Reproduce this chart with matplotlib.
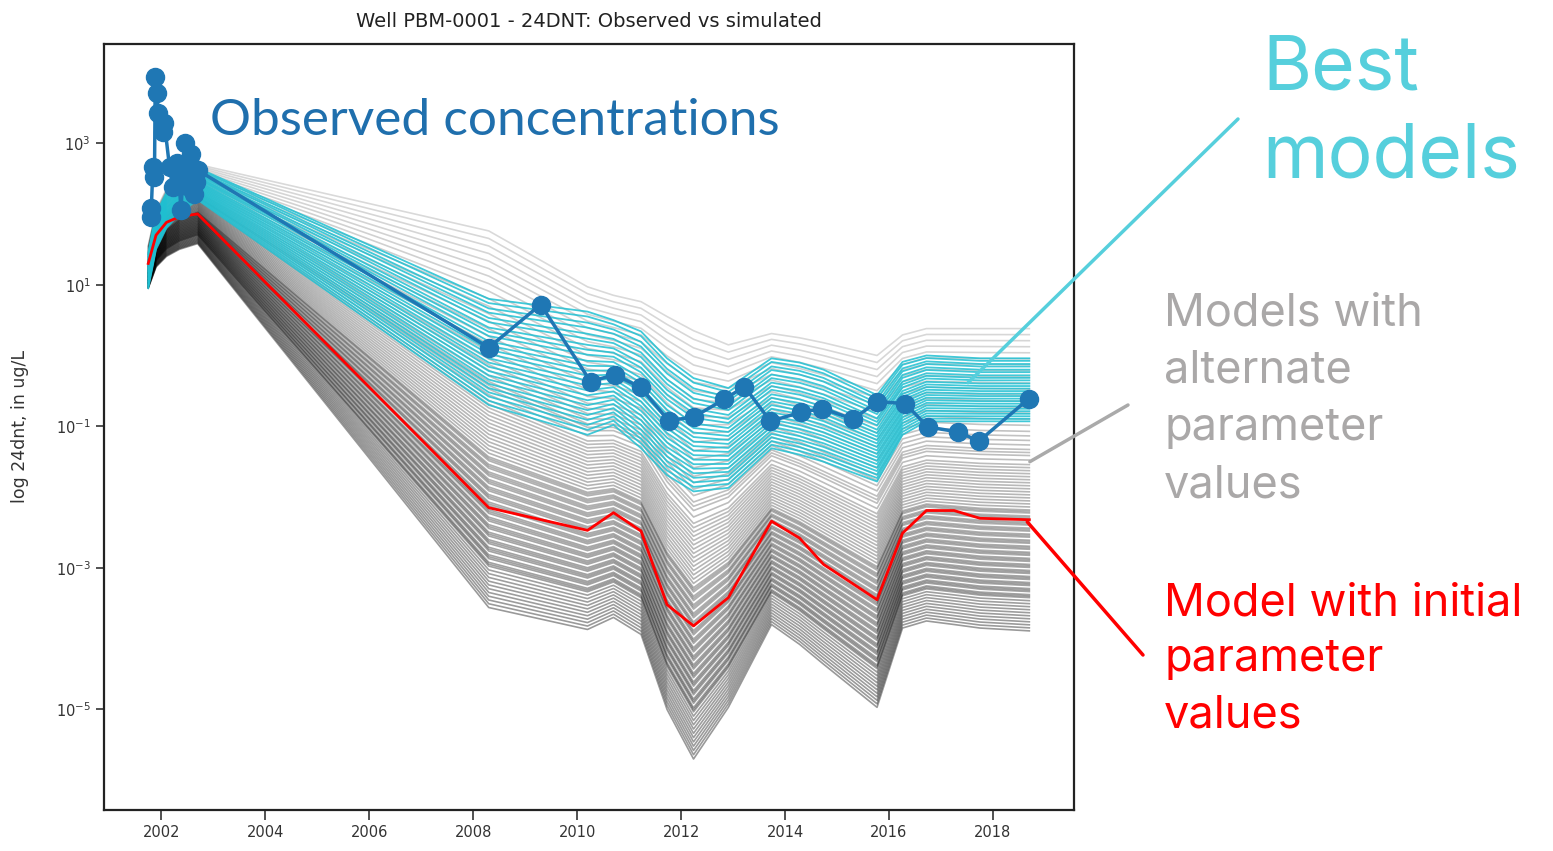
import numpy as np
import matplotlib.pyplot as plt

# model output times (decimal years)
t_model = [2001.75, 2001.90, 2002.10, 2002.35, 2002.70, 2008.30, 2010.20, 2010.70,
           2011.23, 2011.73, 2012.24, 2012.91, 2013.74, 2014.28, 2014.74, 2015.77,
           2016.26, 2016.72, 2017.25, 2017.75, 2018.70]

# log10 concentration envelopes
gray_top = [1.55, 2.05, 2.35, 2.55, 2.70, 1.76, 0.97, 0.85, 0.76, 0.55, 0.35,
            0.15, 0.31, 0.25, 0.18, 0.00, 0.29, 0.38, 0.38, 0.38, 0.38]
gray_bot = [0.95, 1.25, 1.40, 1.50, 1.58, -3.56, -3.87, -3.70, -3.94, -5.00, -5.70,
            -4.97, -3.80, -4.08, -4.36, -4.97, -3.85, -3.75, -3.80, -3.85, -3.89]
cyan_top = [1.45, 2.00, 2.30, 2.50, 2.65, 0.80, 0.62, 0.50, 0.34, -0.04, -0.32,
            -0.46, -0.04, -0.10, -0.20, -0.56, -0.09, 0.00, -0.02, -0.04, -0.04]
cyan_bot = [0.95, 1.50, 1.80, 2.00, 2.20, -0.70, -1.12, -0.98, -1.31, -1.69, -1.92,
            -1.87, -1.31, -1.40, -1.50, -1.78, -1.12, -0.93, -0.93, -0.93, -0.93]
red_init = [1.30, 1.70, 1.88, 1.96, 2.00, -2.15, -2.47, -2.22, -2.48, -3.52, -3.82,
            -3.42, -2.34, -2.58, -2.95, -3.45, -2.51, -2.19, -2.19, -2.30, -2.32]

# position of each ensemble member between the envelopes (0 = top, 1 = bottom)
gray_u = [0.00, 0.02, 0.04, 0.06, 0.08, 0.10, 0.12, 0.14, 0.16, 0.18, 0.20, 0.22,
          0.24, 0.26, 0.28, 0.30, 0.32, 0.34, 0.355, 0.37, 0.385, 0.40, 0.41, 0.42,
          0.435, 0.45, 0.46, 0.47, 0.48, 0.49, 0.50, 0.51, 0.52, 0.53, 0.54, 0.55,
          0.56, 0.57, 0.58, 0.59, 0.60, 0.605, 0.61, 0.62, 0.625, 0.63, 0.64, 0.645,
          0.65, 0.66, 0.665, 0.67, 0.68, 0.685, 0.69, 0.70, 0.705, 0.71, 0.72, 0.725,
          0.73, 0.74, 0.745, 0.75, 0.76, 0.765, 0.77, 0.78, 0.785, 0.79, 0.80, 0.805,
          0.81, 0.82, 0.825, 0.83, 0.84, 0.845, 0.85, 0.86, 0.865, 0.87, 0.88, 0.885,
          0.89, 0.90, 0.91, 0.92, 0.93, 0.94, 0.95, 0.96, 0.97, 0.98, 0.99, 1.00]
cyan_u = [0.00, 0.04, 0.09, 0.13, 0.18, 0.22, 0.27, 0.31, 0.35, 0.40, 0.44, 0.48,
          0.52, 0.56, 0.60, 0.64, 0.68, 0.72, 0.76, 0.80, 0.84, 0.88, 0.92, 0.96, 1.00]

# observed concentrations (ug/L)
obs_t = [2001.80, 2001.81, 2001.84, 2001.87, 2001.885, 2001.92, 2001.94, 2002.03,
         2002.06, 2002.16, 2002.22, 2002.30, 2002.34, 2002.38, 2002.45, 2002.50,
         2002.55, 2002.58, 2002.61, 2002.63, 2002.66, 2002.70, 2008.30, 2009.30,
         2010.26, 2010.72, 2011.22, 2011.76, 2012.24, 2012.83, 2013.22, 2013.72,
         2014.31, 2014.72, 2015.31, 2015.77, 2016.31, 2016.75, 2017.33, 2017.73,
         2018.69]
obs_log = [1.95, 2.09, 2.66, 2.52, 3.93, 3.71, 3.43, 3.15, 3.29, 2.66, 2.38, 2.72,
           2.50, 2.05, 3.00, 2.40, 2.70, 2.85, 2.56, 2.28, 2.45, 2.62, 0.11, 0.72,
           -0.37, -0.27, -0.45, -0.92, -0.87, -0.62, -0.44, -0.93, -0.80, -0.75,
           -0.90, -0.65, -0.68, -1.01, -1.08, -1.21, -0.61]

years = [2002, 2004, 2006, 2008, 2010, 2012, 2014, 2016, 2018]
ydec = [1e3, 1e1, 1e-1, 1e-3, 1e-5]

fig = plt.figure(figsize=(15.53, 8.51), dpi=100)
ax = fig.add_axes([0.0670, 0.0482, 0.6246, 0.9001])

gt, gb = np.array(gray_top), np.array(gray_bot)
for u in gray_u:
    ax.plot(t_model, 10 ** ((1 - u) * gt + u * gb), color='k',
            alpha=0.15 + 0.25 * u, lw=1.2, zorder=1)

ct, cb = np.array(cyan_top), np.array(cyan_bot)
for u in cyan_u:
    ax.plot(t_model, 10 ** ((1 - u) * ct + u * cb), color='#1fc0d2', alpha=0.85, lw=1.3, zorder=2)

ax.plot(t_model, 10 ** np.array(red_init), color='red', lw=2, zorder=3)
ax.plot(obs_t, 10 ** np.array(obs_log), color='#1f77b4', marker='o', ms=13, lw=2.5, zorder=4)

ax.set_yscale('log')
ax.set_xlim(2000.90, 2019.56)
ax.set_ylim(10 ** -6.42, 10 ** 4.40)
ax.set_xticks(years)
ax.set_yticks(ydec)
ax.minorticks_off()
ax.tick_params(axis='x', labelsize=10.5, length=7, width=1.2, colors='#333333')
ax.tick_params(axis='y', labelsize=10.5, length=6, width=1.2, colors='#333333')
for s in ax.spines.values():
    s.set_linewidth(1.6)
    s.set_color('#222222')
ax.set_ylabel('log 24dnt, in ug/L', fontsize=12.5, color='#333333')
ax.yaxis.set_label_coords(-0.077, 0.5)
ax.set_title('Well PBM-0001 - 24DNT: Observed vs simulated', fontsize=14,
             color='#222222', pad=12)

W, H = 1553, 851
ann = dict(va='baseline', ha='left')
fig.text(210 / W, 1 - 135 / H, 'Observed concentrations', fontsize=37,
         color='#1f6fad', family=['Lato', 'DejaVu Sans'], **ann)
thin = dict(family=['Inter', 'Lato', 'DejaVu Sans'], fontweight='normal', **ann)
fig.text(1262 / W, 1 - 90 / H, 'Best', fontsize=54, color='#56cfdc', **thin)
fig.text(1262 / W, 1 - 178 / H, 'models', fontsize=54, color='#56cfdc', **thin)
for i, line in enumerate(['Models with', 'alternate', 'parameter', 'values']):
    fig.text(1164 / W, 1 - (325 + 57.5 * i) / H, line, fontsize=32.5, color='#aaa8a8', **thin)
for i, line in enumerate(['Model with initial', 'parameter', 'values']):
    fig.text(1164 / W, 1 - (615 + 56 * i) / H, line, fontsize=32.5, color='#ff0000', **thin)

pointers = [((2017.52, 10 ** -0.385), (1238, 119), '#56cfdc'),
            ((2018.71, 10 ** -1.50), (1128, 405), '#aaaaaa'),
            ((2018.66, 10 ** -2.35), (1143, 655), '#ff0000')]
for xy, (px, py), c in pointers:
    ax.annotate('', xy=xy, xytext=(px / W, 1 - py / H), textcoords='figure fraction',
                arrowprops=dict(arrowstyle='-', color=c, lw=2.5, shrinkA=0, shrinkB=0),
                annotation_clip=False)

fig.savefig('out.png', dpi=100)
